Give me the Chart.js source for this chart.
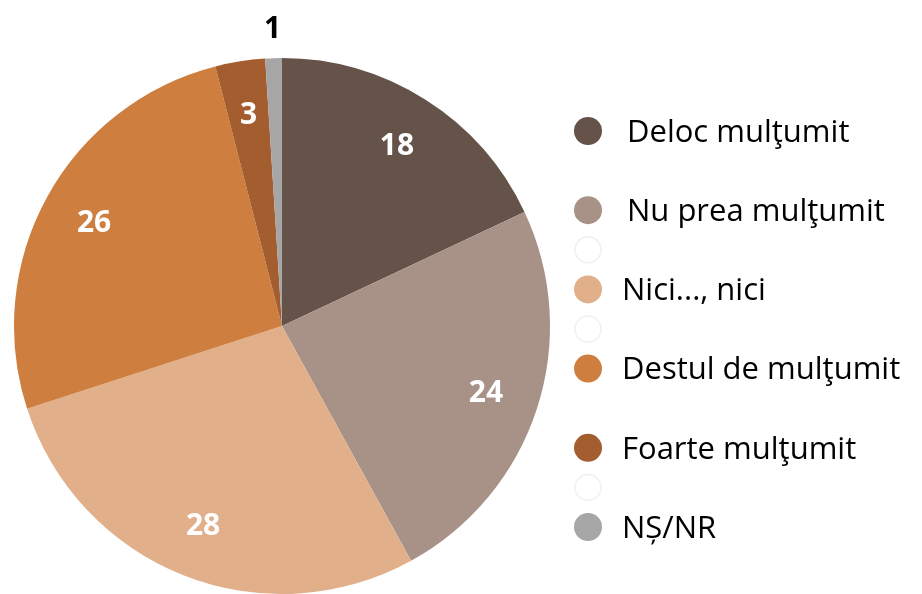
<!DOCTYPE html>
<html>
<head>
<meta charset="utf-8">
<script src="https://cdn.jsdelivr.net/npm/chart.js@4/dist/chart.umd.min.js"></script>
<style>
html,body{margin:0;padding:0;background:#fff;}
#wrap{width:922px;height:594px;position:relative;}
</style>
</head>
<body>
<div id="wrap"><canvas id="c" width="922" height="594"></canvas></div>
<script>
const categories = ["Deloc mulţumit", "Nu prea mulţumit", "Nici..., nici", "Destul de mulţumit", "Foarte mulţumit", "NȘ/NR"];
const values = [18, 24, 28, 26, 3, 1];
const colors = ["#655249", "#a89288", "#e1b08b", "#ce7e3e", "#a45d2f", "#a6a6a6"];
const FONT = "'Open Sans', 'Noto Sans', sans-serif";

const labelPlugin = {
  id: 'sliceLabels',
  afterDatasetsDraw(chart) {
    const ctx = chart.ctx;
    const meta = chart.getDatasetMeta(0);
    ctx.save();
    ctx.textAlign = 'center';
    ctx.textBaseline = 'middle';
    ctx.font = "bold 30px " + FONT;
    meta.data.forEach((arc, i) => {
      const mid = (arc.startAngle + arc.endAngle) / 2;
      let r = arc.outerRadius * 0.8;
      let color = '#ffffff';
      if (values[i] < 2) { r = arc.outerRadius + 30; color = '#000000'; }
      const x = arc.x + Math.cos(mid) * r;
      const y = arc.y + Math.sin(mid) * r;
      ctx.fillStyle = color;
      ctx.fillText(String(values[i]), x, y + 1);
    });
    ctx.restore();
  }
};

const legendPlugin = {
  id: 'customLegend',
  afterDraw(chart) {
    const ctx = chart.ctx;
    const x0 = 588, y0 = 131, step = 79.2, rad = 14;
    ctx.save();
    ctx.strokeStyle = '#f0f0f0';
    ctx.lineWidth = 1.5;
    [[1, 2], [2, 3], [4, 5]].forEach(([a, b]) => {
      const y = y0 + step * (a + b) / 2;
      ctx.beginPath(); ctx.arc(x0, y, rad - 1, 0, Math.PI * 2); ctx.stroke();
    });
    ctx.font = "31px " + FONT;
    ctx.textBaseline = 'middle';
    ctx.textAlign = 'left';
    categories.forEach((lab, i) => {
      const y = y0 + step * i;
      ctx.fillStyle = colors[i];
      ctx.beginPath(); ctx.arc(x0, y, rad, 0, Math.PI * 2); ctx.fill();
      ctx.fillStyle = '#000';
      ctx.fillText(lab, i === 0 || i === 1 ? 627 : 622, y + 2);
    });
    ctx.restore();
  }
};

new Chart(document.getElementById('c'), {
  type: 'pie',
  data: {
    labels: categories,
    datasets: [{ data: values, backgroundColor: colors, borderWidth: 0 }]
  },
  options: {
    responsive: false,
    animation: false,
    layout: { padding: { left: 13, right: 371, top: 58, bottom: -2 } },
    plugins: { legend: { display: false }, tooltip: { enabled: false } }
  },
  plugins: [labelPlugin, legendPlugin]
});
</script>
</body>
</html>
